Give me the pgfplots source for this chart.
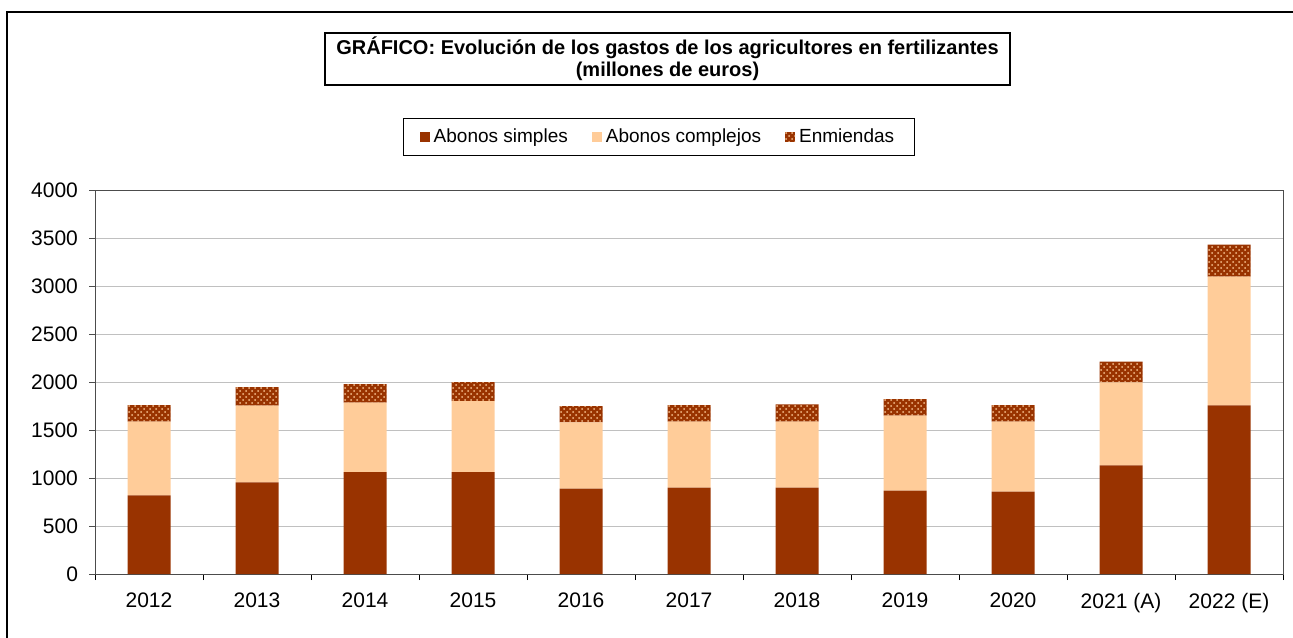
\documentclass[border=0pt]{standalone}
\usepackage{fontspec}
\setmainfont{Liberation Sans}
\usepackage{pgfplots}
\pgfplotsset{compat=1.18}
\usetikzlibrary{patterns}
\definecolor{simple}{RGB}{153,51,0}
\definecolor{complejo}{RGB}{255,204,153}
\definecolor{hatch}{RGB}{245,190,140}
\definecolor{gridc}{RGB}{192,192,192}
\begin{document}
\begin{tikzpicture}
\path[use as bounding box] (0,0) rectangle (646.5pt,-318.5pt);
\draw[line width=1pt] (3.5pt,-330pt) -- (3.5pt,-6pt) -- (660pt,-6pt);
\node[draw, line width=0.75pt, minimum width=342.5pt, minimum height=26pt, align=center,
      font=\bfseries\fontsize{10}{11}\selectfont, inner sep=0pt] at (333.75pt,-29.5pt)
  {GRÁFICO: Evolución de los gastos de los agricultores en fertilizantes\\(millones de euros)};
\begin{axis}[
  at={(47.5pt,-287pt)}, anchor=south west, scale only axis,
  width=594pt, height=192pt,
  ybar stacked, bar width=21.5pt,
  ymin=0, ymax=4000, ytick={0,500,...,4000},
  xmin=-0.5, xmax=10.5, xtick={0,...,10},
  xticklabels={2012,2013,2014,2015,2016,2017,2018,2019,2020,2021 (A),2022 (E)},
  minor xtick={-0.5,0.5,...,10.5},
  tick pos=left,
  major x tick style={draw=none},
  minor x tick style={black, line width=0.5pt},
  y tick style={black!70, line width=0.5pt},
  tick align=outside, major tick length=3pt, minor tick length=3pt,
  ymajorgrids, grid style={gridc, line width=0.5pt},
  axis line style={black!70, line width=0.5pt},
  x axis line style={black},
  tick label style={font=\fontsize{10.5}{12}\selectfont},
  /pgf/number format/assume math mode=true,
  /pgf/number format/1000 sep={},
  xticklabel style={yshift=-3pt},
  yticklabel style={xshift=-2pt},
  legend style={at={(0.4747,1.139)}, anchor=center, legend columns=3,
    draw=black, line width=0.5pt, font=\fontsize{9.5}{11}\selectfont,
    inner xsep=8pt, inner ysep=3pt},
  legend cell align=left,
  /tikz/every even column/.append style={column sep=10pt},
  legend image code/.code={\draw[#1,draw=none] (0pt,-2.5pt) rectangle (5pt,2.5pt);},
]
\addplot[fill=simple, draw=none] coordinates {(0,820) (1,955) (2,1062) (3,1062) (4,889) (5,899) (6,899) (7,868) (8,857) (9,1132) (10,1757)};
\addplot[fill=complejo, draw=none] coordinates {(0,767) (1,798) (2,723) (3,740) (4,691) (5,688) (6,688) (7,781) (8,730) (9,865) (10,1340)};
\addplot[fill=simple, draw=none, postaction={pattern=crosshatch dots, pattern color=hatch}] coordinates {(0,173) (1,195) (2,194) (3,198) (4,170) (5,173) (6,180) (7,174) (8,173) (9,215) (10,333)};
\legend{Abonos simples, Abonos complejos, Enmiendas}
\end{axis}
\end{tikzpicture}
\end{document}
